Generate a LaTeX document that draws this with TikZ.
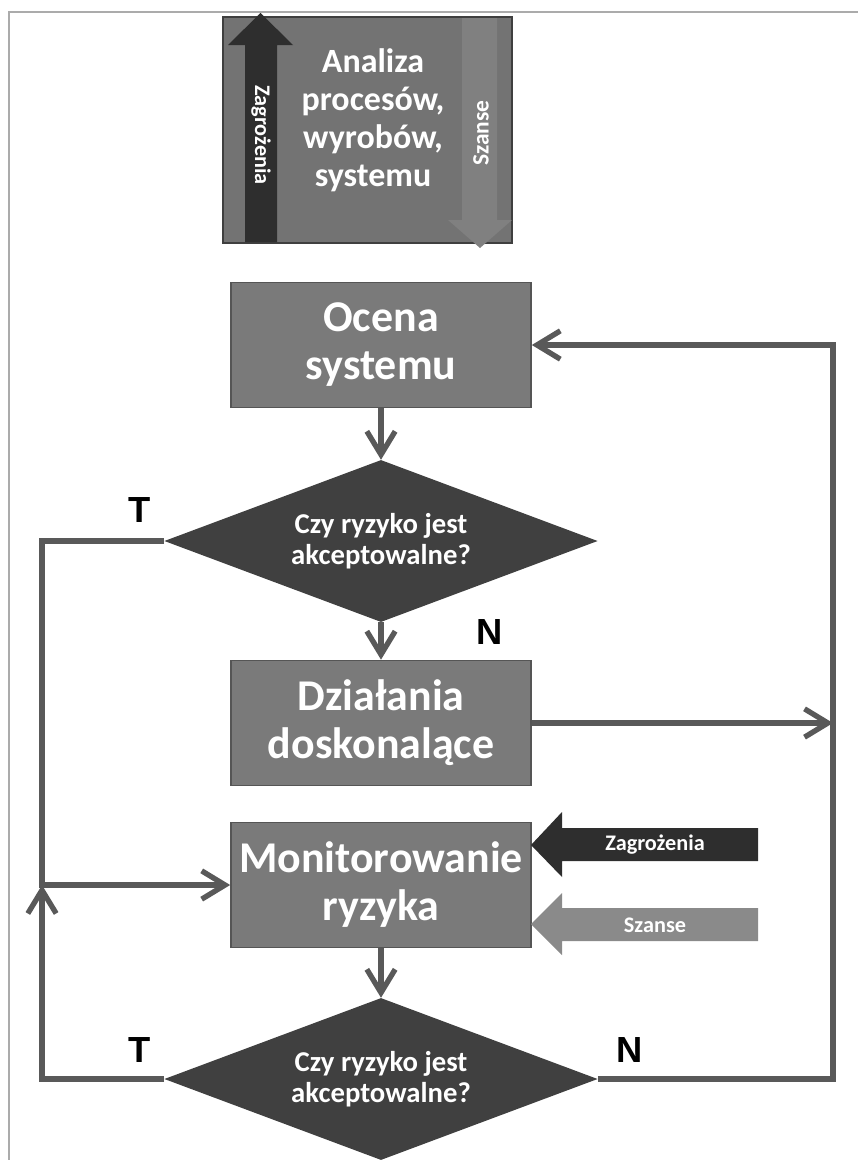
\documentclass[tikz,border=0pt]{standalone}
\usepackage{fontspec}
\setmainfont{Carlito}
\newfontfamily\tnfont{Liberation Sans}
\usetikzlibrary{arrows.meta,shapes.geometric}
\definecolor{rkframe}{HTML}{ABABAB}
\definecolor{rkbox}{HTML}{7A7A7A}
\definecolor{rkedge}{HTML}{555555}
\definecolor{rktop}{HTML}{737373}
\definecolor{rktopedge}{HTML}{3F3F3F}
\definecolor{rkdia}{HTML}{404040}
\definecolor{rkline}{HTML}{595959}
\definecolor{rkdark}{HTML}{2E2E2E}
\definecolor{rklight}{HTML}{8A8A8A}
\definecolor{rkpale}{HTML}{808080}
\tikzset{
  bx/.style={rectangle, fill=rkbox, draw=rkedge, line width=0.5mm, minimum width=90mm, minimum height=37.5mm, inner sep=0pt, align=center, text=white, font=\bfseries\fontsize{37.5}{41}\selectfont},
  topbx/.style={rectangle, fill=rktop, draw=rktopedge, line width=0.5mm, minimum width=86.7mm, minimum height=67.8mm, inner sep=0pt},
  dec/.style={diamond, aspect=2.67, fill=rkdia, minimum width=130mm, minimum height=48.6mm, inner sep=0pt, align=center, text=white, font=\bfseries\fontsize{24.5}{27}\selectfont},
  arr/.style={-{Straight Barb[length=7mm,width=8.5mm]}, line width=1.6mm, color=rkline},
  tf/.style={font=\tnfont\bfseries\fontsize{31}{31}\selectfont},
  lbl/.style={text=white, font=\bfseries\fontsize{19}{19}\selectfont},
}

\begin{document}
\begin{tikzpicture}[x=0.3mm, y=-0.3mm]
  \useasboundingbox (0,0) rectangle (858,1160);
  \draw[rkframe, line width=0.6mm] (9,1160) -- (9,12) -- (858,12);

  % analiza block with the two inner arrows
  \node[topbx] (ana) at (367.5,130) {};
  \fill[rkdark] (245,242) -- (245,45) -- (228,45) -- (260.5,13) -- (293,45) -- (277,45) -- (277,242) -- cycle;
  \fill[rkpale] (462,18) -- (462,220) -- (448,220) -- (480,248) -- (512,220) -- (497,220) -- (497,18) -- cycle;
  \node[lbl, rotate=-90] (zagv) at (261,135) {Zagrożenia};
  \node[lbl, rotate=90, font=\bfseries\fontsize{20}{20}\selectfont] (szv) at (481,133) {Szanse};
  \node[align=center, text=white, font=\bfseries\fontsize{29}{32.5}\selectfont] (anatxt) at (373,120) {Analiza\\procesów,\\wyrobów,\\systemu};

  % main flow
  \node[bx] (ocena) at (381,345) {Ocena\\systemu};
  \node[dec] (dec1) at (381,541) {Czy ryzyko jest\\akceptowalne?};
  \node[bx] (dzial) at (381,723) {Działania\\doskonalące};
  \node[bx] (monit) at (381,885) {Monitorowanie\\ryzyka};
  \node[dec] (dec2) at (381,1079) {Czy ryzyko jest\\akceptowalne?};

  \node[tf] (t1) at (140,510) {T};
  \node[tf] (n1) at (490,632) {N};
  \node[tf] (t2) at (140,1050) {T};
  \node[tf] (n2) at (630,1050) {N};

  % side inputs to monitoring
  \fill[rkdark] (531,845) -- (562,812) -- (562,828) -- (758,828) -- (758,861) -- (562,861) -- (562,877) -- cycle;
  \node[lbl] (zagin) at (655,845) {Zagrożenia};
  \fill[rklight] (531,924) -- (562,893) -- (562,908) -- (758,908) -- (758,941) -- (562,941) -- (562,955) -- cycle;
  \node[lbl] (szin) at (655,925) {Szanse};

  \coordinate (lj) at (42,885);
  \coordinate (rj) at (833,723);
  \coordinate (rc) at (833,345);

  \draw[arr] (ocena.south) -- (dec1.north);
  \draw[arr] (dec1.south) -- (dzial.north);
  \draw[arr] (monit.south) -- (dec2.north);
  \draw[arr] (dec1.west) -| (lj) -- (monit.west);
  \draw[arr] (dec2.west) -| (lj);
  \draw[arr] (dzial.east) -- (rj);
  \draw[arr] (dec2.east) -| (rc) -- (ocena.east);
\end{tikzpicture}
\end{document}
